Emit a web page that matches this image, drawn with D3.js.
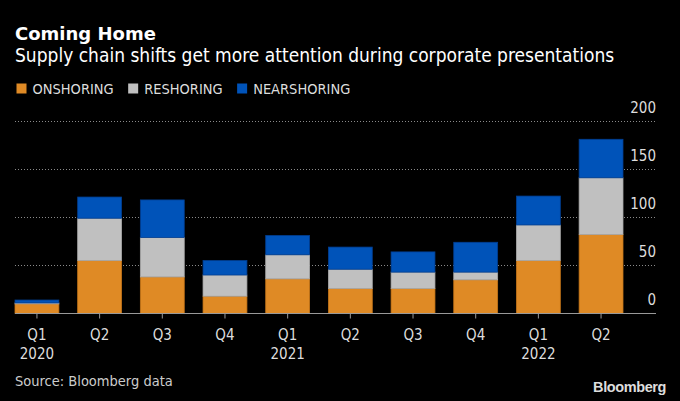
<!DOCTYPE html>
<html>
<head>
<meta charset="utf-8">
<script src="https://cdn.jsdelivr.net/npm/d3@7"></script>
<style>
  body { margin: 0; background: #000; }
  text { font-family: "Liberation Sans Narrow", "DejaVu Sans Condensed", sans-serif; }
</style>
</head>
<body>
<div id="chart"></div>
<script>
// data
var quarters = ["Q1 2020", "Q2 2020", "Q3 2020", "Q4 2020", "Q1 2021", "Q2 2021", "Q3 2021", "Q4 2021", "Q1 2022", "Q2 2022"];
var quarterLabels = ["Q1", "Q2", "Q3", "Q4", "Q1", "Q2", "Q3", "Q4", "Q1", "Q2"];
var yearLabels = ["2020", "", "", "", "2021", "", "", "", "2022", ""];
var onshoring = [10, 55, 38, 18, 36, 26, 26, 35, 55, 82];
var reshoring = [1, 44, 41, 22, 25, 20, 17, 8, 37, 59];
var nearshoring = [3, 22, 39, 15, 20, 23, 21, 31, 30, 40];
var seriesNames = ["ONSHORING", "RESHORING", "NEARSHORING"];
var yTicks = [0, 50, 100, 150, 200];

var width = 680,
    height = 401;
var color = {"ONSHORING": "#df8a25", "RESHORING": "#c0c0c0", "NEARSHORING": "#0053b9"};
var strokeColor = {"ONSHORING": "#c57518", "RESHORING": "#a9a9a9", "NEARSHORING": "#003f93"};

var left = 15, right = 656, barsRight = 623;
var y0 = 313.5, yTop = 121;

var rows = quarters.map(function (q, i) {
  return {q: q, ONSHORING: onshoring[i], RESHORING: reshoring[i], NEARSHORING: nearshoring[i]};
});
var stacked = d3.stack().keys(seriesNames)(rows);

var x = d3.scaleBand()
    .domain(quarters)
    .range([left, barsRight])
    .paddingInner(0.3)
    .paddingOuter(0);
var y = d3.scaleLinear()
    .domain([0, 200])
    .range([y0, yTop]);

var svg = d3.select("#chart").append("svg")
    .attr("width", width)
    .attr("height", height)
    .style("background", "#000");

// title
svg.append("text")
    .attr("x", 15)
    .attr("y", 39.5)
    .attr("font-size", "18px")
    .attr("font-weight", "bold")
    .attr("fill", "#fff")
    .style("font-family", "'DejaVu Sans', sans-serif")
    .text("Coming Home");
svg.append("text")
    .attr("x", 15)
    .attr("y", 62)
    .attr("font-size", "19px")
    .attr("fill", "#fff")
    .text("Supply chain shifts get more attention during corporate presentations");

// legend
var lx = 16.5;
seriesNames.forEach(function (name) {
  svg.append("rect")
      .attr("x", lx)
      .attr("y", 83.5)
      .attr("width", 10)
      .attr("height", 10)
      .attr("fill", color[name]);
  var t = svg.append("text")
      .attr("x", lx + 16)
      .attr("y", 93.5)
      .attr("font-size", "14.5px")
      .attr("fill", "#ddd")
      .text(name);
  lx += 16 + t.node().getComputedTextLength() + 14.5;
});

// grid lines
svg.append("g").selectAll("line")
    .data(yTicks.filter(function (d) { return d > 0; }))
  .enter().append("line")
    .attr("x1", left)
    .attr("x2", right)
    .attr("y1", function (d) { return Math.round(y(d)) + 0.5; })
    .attr("y2", function (d) { return Math.round(y(d)) + 0.5; })
    .attr("stroke", "#8a8a8a")
    .attr("stroke-width", 1)
    .attr("stroke-dasharray", "1,2");

// y labels
svg.append("g").selectAll("text")
    .data(yTicks)
  .enter().append("text")
    .attr("x", right)
    .attr("y", function (d) { return y(d) - 8.5; })
    .attr("text-anchor", "end")
    .attr("font-size", "15px")
    .attr("fill", "#ddd")
    .text(function (d) { return d; });

// bars
svg.append("g").selectAll("g")
    .data(stacked)
  .enter().append("g")
    .attr("fill", function (d) { return color[d.key]; })
    .attr("stroke", function (d) { return strokeColor[d.key]; })
    .attr("stroke-width", 0.8)
  .selectAll("rect")
    .data(function (d) { return d; })
  .enter().append("rect")
    .attr("x", function (d) { return x(d.data.q); })
    .attr("y", function (d) { return y(d[1]); })
    .attr("width", x.bandwidth())
    .attr("height", function (d) { return y(d[0]) - y(d[1]); });

// baseline
svg.append("line")
    .attr("x1", left)
    .attr("x2", right)
    .attr("y1", y0)
    .attr("y2", y0)
    .attr("stroke", "#999")
    .attr("stroke-width", 1.2);

// x ticks and labels
var xTick = svg.append("g").selectAll("g")
    .data(quarters)
  .enter().append("g")
    .attr("transform", function (d) { return "translate(" + (x(d) + x.bandwidth() / 2) + ",0)"; });
xTick.append("line")
    .attr("y1", y0)
    .attr("y2", y0 + 5)
    .attr("stroke", "#999");
xTick.append("text")
    .attr("y", 340)
    .attr("text-anchor", "middle")
    .attr("font-size", "15px")
    .attr("fill", "#ddd")
    .text(function (d, i) { return quarterLabels[i]; });
xTick.append("text")
    .attr("y", 359)
    .attr("text-anchor", "middle")
    .attr("font-size", "15px")
    .attr("fill", "#ddd")
    .text(function (d, i) { return yearLabels[i]; });

// footer
svg.append("text")
    .attr("x", 15)
    .attr("y", 386)
    .attr("font-size", "14.5px")
    .attr("fill", "#ccc")
    .text("Source: Bloomberg data");
svg.append("text")
    .attr("x", 666)
    .attr("y", 392)
    .attr("text-anchor", "end")
    .attr("font-size", "14.5px")
    .attr("font-weight", "bold")
    .attr("fill", "#ddd")
    .style("font-family", "'Liberation Sans', Arial, sans-serif")
    .style("letter-spacing", "-0.4px")
    .text("Bloomberg");
</script>
</body>
</html>
